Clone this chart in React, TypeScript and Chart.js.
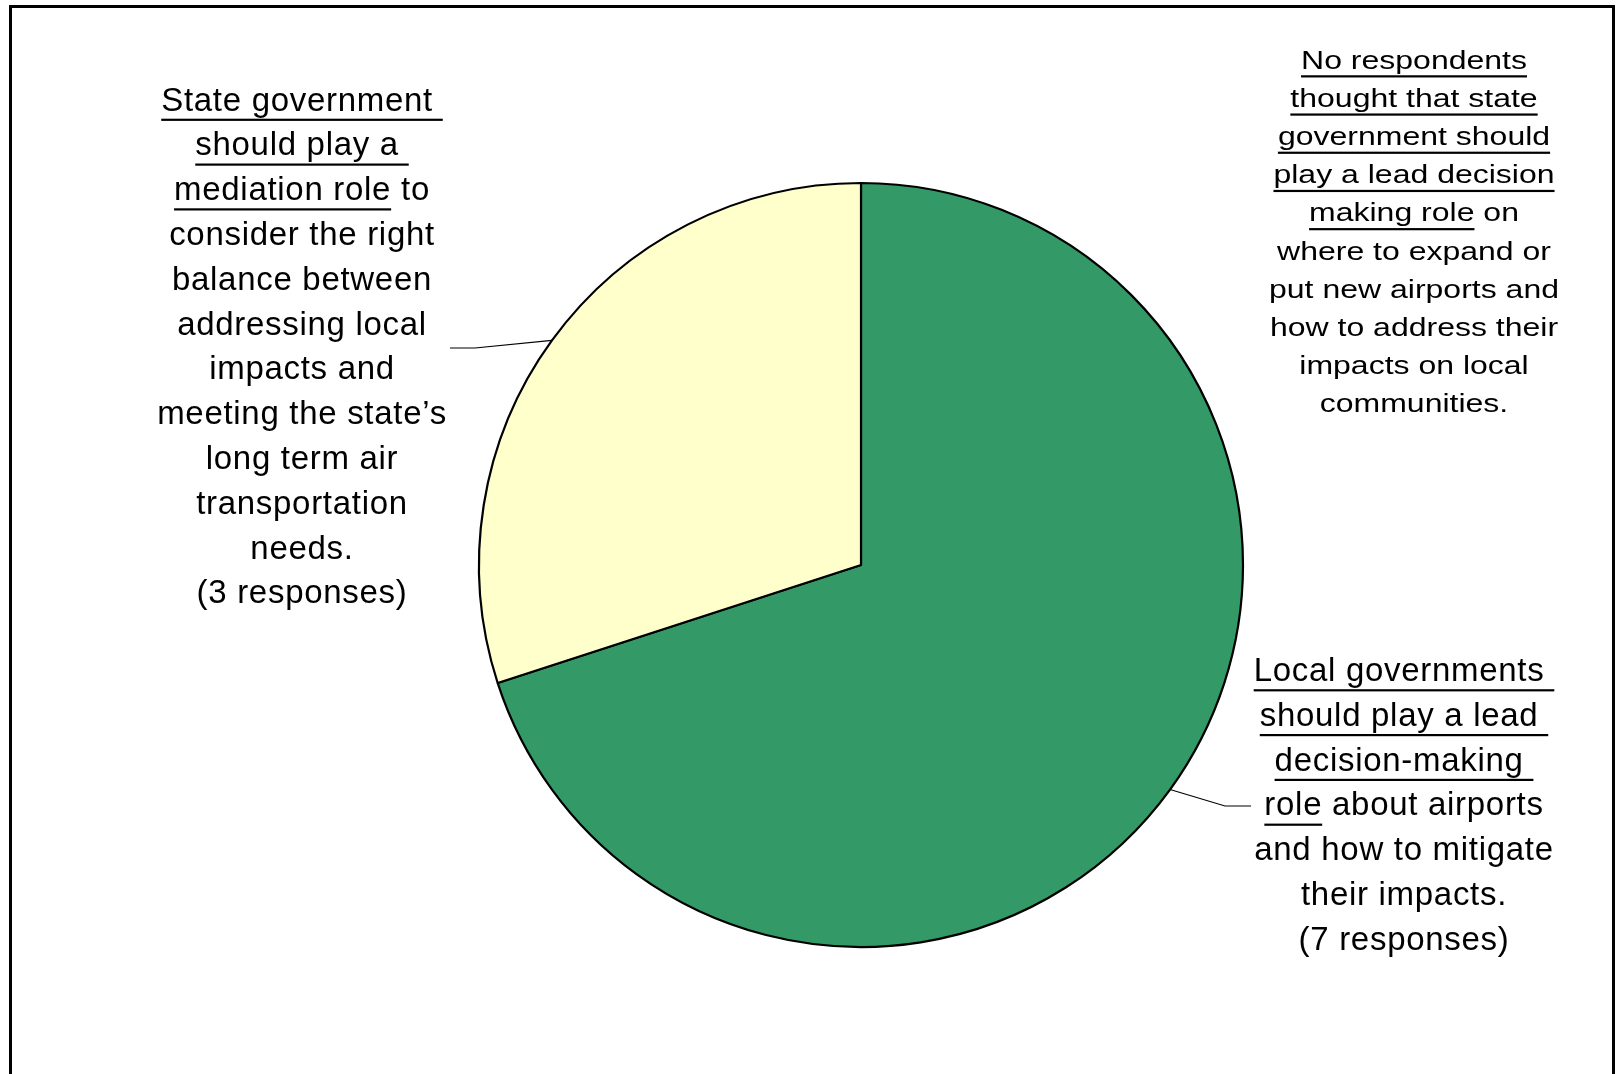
import React, { useEffect, useRef } from "react";
import { Chart, registerables } from "chart.js";

Chart.register(...registerables);

// ---- Data ----
const categories = [
  "Local governments should play a lead decision-making role",
  "State government should play a mediation role",
  "State government should play a lead decision making role",
];
const responses = [7, 3, 0];
const sliceColors = ["#339966", "#FFFFCC", "#CCFFCC"];

// Label texts; [ ... ] marks underlined words
const localLabelLines = [
  "[Local governments ]",
  "[should play a lead ]",
  "[decision-making ]",
  "[role] about airports",
  "and how to mitigate",
  "their impacts.",
];
const mediationLabelLines = [
  "[State government ]",
  "[should play a ]",
  "[mediation role] to",
  "consider the right",
  "balance between",
  "addressing local",
  "impacts and",
  "meeting the state\u2019s",
  "long term air",
  "transportation",
  "needs.",
];
const stateLeadLabelLines = [
  "[No respondents]",
  "[thought that state]",
  "[government should]",
  "[play a lead decision]",
  "[making role] on",
  "where to expand or",
  "put new airports and",
  "how to address their",
  "impacts on local",
  "communities.",
];

const FAMILY = '"Liberation Sans", Arial, Helvetica, sans-serif';

function parseSegments(line: string) {
  const segs: { text: string; u: boolean }[] = [];
  const re = /\[([^\]]*)\]|([^\[]+)/g;
  let m: RegExpExecArray | null;
  while ((m = re.exec(line))) {
    if (m[1] !== undefined) segs.push({ text: m[1], u: true });
    else segs.push({ text: m[2], u: false });
  }
  return segs;
}

function drawBlock(
  ctx: CanvasRenderingContext2D,
  lines: string[],
  cx: number,
  firstBaseline: number,
  lineGap: number,
  fontPx: number,
  sy: number,
  spacing: number
) {
  ctx.save();
  ctx.font = `${fontPx}px ${FAMILY}`;
  (ctx as any).letterSpacing = `${spacing}px`;
  ctx.fillStyle = "#000";
  ctx.textBaseline = "alphabetic";
  ctx.textAlign = "left";
  lines.forEach((line, i) => {
    const segs = parseSegments(line);
    const full = segs.map((s) => s.text).join("");
    const w = ctx.measureText(full).width;
    let x = cx - w / 2;
    const y = firstBaseline + i * lineGap;
    ctx.save();
    ctx.translate(0, y);
    ctx.scale(1, sy);
    segs.forEach((s) => {
      const sw = ctx.measureText(s.text).width;
      ctx.fillText(s.text, x, 0);
      if (s.u) ctx.fillRect(x, 8.2, sw, 2.2 / sy);
      x += sw;
    });
    ctx.restore();
  });
  ctx.restore();
}

const decorPlugin = {
  id: "decor",
  beforeDraw(chart: any) {
    const ctx: CanvasRenderingContext2D = chart.ctx;
    ctx.save();
    ctx.fillStyle = "#ffffff";
    ctx.fillRect(0, 0, chart.width, chart.height);
    ctx.strokeStyle = "#000";
    ctx.lineWidth = 3;
    ctx.strokeRect(10.5, 6.5, 1603, 1090);
    ctx.restore();
  },
  afterDraw(chart: any) {
    const ctx: CanvasRenderingContext2D = chart.ctx;
    const meta = chart.getDatasetMeta(0);
    const arcPoint = (i: number) => {
      const p = meta.data[i].getProps(["x", "y", "startAngle", "endAngle", "outerRadius"], true);
      const mid = (p.startAngle + p.endAngle) / 2;
      return { x: p.x + Math.cos(mid) * p.outerRadius, y: p.y + Math.sin(mid) * p.outerRadius };
    };
    // leader lines
    ctx.save();
    ctx.strokeStyle = "#000";
    ctx.lineWidth = 1.2;
    const a1 = arcPoint(1);
    ctx.beginPath();
    ctx.moveTo(a1.x, a1.y);
    ctx.lineTo(475, 348);
    ctx.lineTo(450, 348);
    ctx.stroke();
    const a0 = arcPoint(0);
    ctx.beginPath();
    ctx.moveTo(a0.x, a0.y);
    ctx.lineTo(1225, 806);
    ctx.lineTo(1251, 806);
    ctx.stroke();
    ctx.restore();

    drawBlock(
      ctx,
      [...mediationLabelLines, `(${responses[1]} responses)`],
      302,
      110.5,
      44.8,
      33,
      1,
      0.7
    );
    drawBlock(
      ctx,
      [...localLabelLines, `(${responses[0]} responses)`],
      1404,
      681,
      44.8,
      33,
      1,
      0.7
    );
    drawBlock(ctx, stateLeadLabelLines, 1414, 68.5, 38.2, 32, 0.825, 0);
  },
};

export default function App() {
  const ref = useRef<HTMLCanvasElement | null>(null);
  useEffect(() => {
    if (!ref.current) return;
    const chart = new Chart(ref.current, {
      type: "pie",
      data: {
        labels: categories,
        datasets: [
          {
            data: responses,
            backgroundColor: sliceColors,
            borderColor: "#000000",
            borderWidth: 2.2,
            hoverOffset: 0,
          },
        ],
      },
      options: {
        responsive: false,
        animation: false,
        devicePixelRatio: 1,
        radius: 382,
        layout: { padding: { left: 102, top: 56, right: 0, bottom: 0 } },
        plugins: {
          legend: { display: false },
          tooltip: { enabled: false },
        },
        events: [],
      } as any,
      plugins: [decorPlugin],
    });
    return () => chart.destroy();
  }, []);
  return (
    <div style={{ position: "fixed", left: 0, top: 0, width: 1620, height: 1074, background: "#fff" }}>
      <canvas ref={ref} width={1620} height={1074} style={{ width: 1620, height: 1074, display: "block" }} />
    </div>
  );
}
